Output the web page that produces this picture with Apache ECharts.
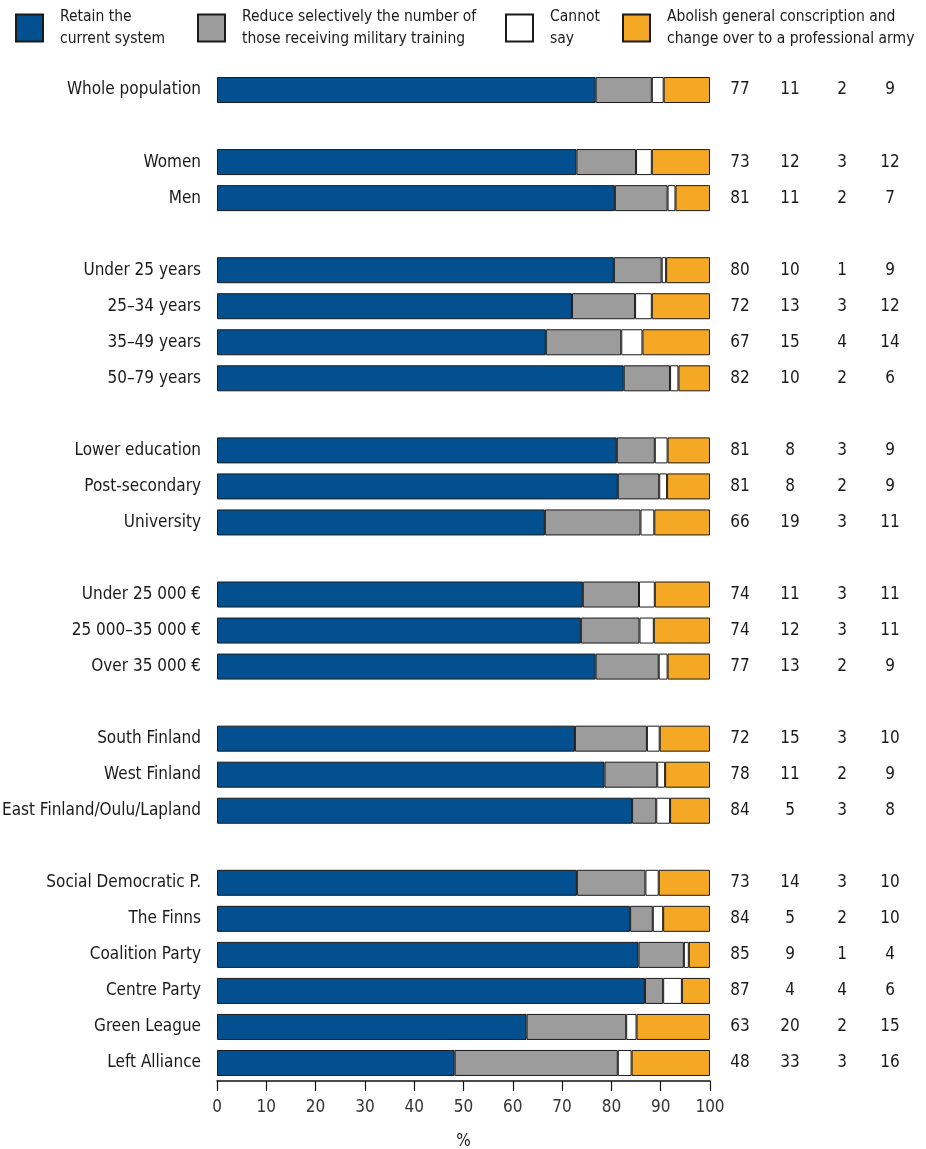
<!DOCTYPE html>
<html>
<head>
<meta charset="utf-8">
<script src="https://cdn.jsdelivr.net/npm/echarts@6/dist/echarts.min.js"></script>
<style>
html,body{margin:0;padding:0;background:#fff;}
#chart{width:926px;height:1149px;}
</style>
</head>
<body>
<div id="chart"></div>
<script>
// null marks an empty gap row between groups
const categories = ['Whole population', null, 'Women', 'Men', null,
  'Under 25 years', '25–34 years', '35–49 years', '50–79 years', null,
  'Lower education', 'Post-secondary', 'University', null,
  'Under 25 000 €', '25 000–35 000 €', 'Over 35 000 €', null,
  'South Finland', 'West Finland', 'East Finland/Oulu/Lapland', null,
  'Social Democratic P.', 'The Finns', 'Coalition Party', 'Centre Party', 'Green League', 'Left Alliance'];

const seriesNames = ['Retain the\ncurrent system',
  'Reduce selectively the number of\nthose receiving military training',
  'Cannot\nsay',
  'Abolish general conscription and\nchange over to a professional army'];

// bar lengths (%)
const retain  = [76.8, null, 72.9, 80.7, null, 80.5, 72.0, 66.7, 82.5, null, 81.1, 81.3, 66.5, null, 74.2, 73.8, 76.8, null, 72.6, 78.6, 84.2, null, 73.0, 83.8, 85.5, 86.8, 62.8, 48.2];
const reduce  = [11.4, null, 12.1, 10.7, null, 9.7, 12.8, 15.3, 9.4, null, 7.7, 8.4, 19.4, null, 11.4, 11.9, 12.8, null, 14.6, 10.7, 4.9, null, 13.9, 4.6, 9.2, 3.7, 20.2, 33.1];
const cannot  = [2.4, null, 3.2, 1.6, null, 0.9, 3.4, 4.3, 1.7, null, 2.6, 1.6, 2.8, null, 3.2, 2.9, 1.8, null, 2.6, 1.6, 2.8, null, 2.7, 2.1, 1.0, 3.8, 2.1, 2.8];
const abolish = [9.4, null, 11.8, 7.0, null, 8.9, 11.8, 13.7, 6.4, null, 8.6, 8.7, 11.3, null, 11.2, 11.4, 8.6, null, 10.2, 9.1, 8.1, null, 10.4, 9.5, 4.3, 5.7, 14.9, 15.9];

// printed figures in the right-hand columns
const retainLabels  = [77, null, 73, 81, null, 80, 72, 67, 82, null, 81, 81, 66, null, 74, 74, 77, null, 72, 78, 84, null, 73, 84, 85, 87, 63, 48];
const reduceLabels  = [11, null, 12, 11, null, 10, 13, 15, 10, null, 8, 8, 19, null, 11, 12, 13, null, 15, 11, 5, null, 14, 5, 9, 4, 20, 33];
const cannotLabels  = [2, null, 3, 2, null, 1, 3, 4, 2, null, 3, 2, 3, null, 3, 3, 2, null, 3, 2, 3, null, 3, 2, 1, 4, 2, 3];
const abolishLabels = [9, null, 12, 7, null, 9, 12, 14, 6, null, 9, 9, 11, null, 11, 11, 9, null, 10, 9, 8, null, 10, 10, 4, 6, 15, 16];

const xTicks = [0, 10, 20, 30, 40, 50, 60, 70, 80, 90, 100];

const colors = ['#02508f', '#9c9c9c', '#ffffff', '#f5a823'];
const FONT = "'DejaVu Sans Condensed', 'Liberation Sans Narrow', 'Noto Sans', sans-serif";
const FS = 17;
const TXT = '#1a1a1a';

// unique blank names for gap rows
let gapCount = 0;
const axisCats = categories.map(c => c === null ? ' '.repeat(++gapCount) : c);

const valueSets = [retain, reduce, cannot, abolish];
const labelSets = [retainLabels, reduceLabels, cannotLabels, abolishLabels];
const labelMargins = [30, 80, 132, 180];

const rightAxes = labelSets.map((arr, k) => ({
  type: 'category',
  data: axisCats,
  inverse: true,
  position: 'right',
  gridIndex: 0,
  axisLine: {show: false},
  axisTick: {show: false},
  splitLine: {show: false},
  axisLabel: {
    interval: 0,
    margin: labelMargins[k],
    align: 'center',
    fontFamily: FONT,
    fontSize: FS,
    color: TXT,
    formatter: (v, i) => (arr[i] === null || arr[i] === undefined) ? '' : String(arr[i])
  }
}));

const legendLefts = [15, 197, 505, 622];

const option = {
  animation: false,
  backgroundColor: '#ffffff',
  color: colors,
  legend: seriesNames.map((n, k) => ({
    data: [n],
    left: legendLefts[k],
    top: 6,
    padding: 0,
    itemWidth: 27,
    itemHeight: 27,
    icon: 'rect',
    selectedMode: false,
    textStyle: {fontFamily: FONT, fontSize: 15.5, lineHeight: 22, color: TXT, padding: [0, 0, 0, 12]}
  })),
  grid: {left: 217, right: 216, top: 72, bottom: 68, containLabel: false, outerBoundsMode: 'none'},
  xAxis: {
    type: 'value',
    min: 0,
    max: 100,
    interval: 10,
    name: '%',
    nameLocation: 'middle',
    nameGap: 52,
    nameTextStyle: {fontFamily: FONT, fontSize: FS, color: TXT},
    axisLine: {show: true, lineStyle: {color: '#111', width: 1.5}},
    axisTick: {show: true, length: 10, lineStyle: {color: '#111', width: 1.2}},
    splitLine: {show: false},
    axisLabel: {
      margin: 18,
      fontFamily: FONT,
      fontSize: FS,
      color: '#333',
      formatter: v => xTicks.includes(v) ? String(v) : ''
    }
  },
  yAxis: [{
    type: 'category',
    data: axisCats,
    inverse: true,
    axisLine: {show: false},
    axisTick: {show: false},
    splitLine: {show: false},
    axisLabel: {interval: 0, margin: 16, fontFamily: FONT, fontSize: FS, color: TXT}
  }].concat(rightAxes),
  series: valueSets.map((arr, k) => ({
    name: seriesNames[k],
    type: 'bar',
    stack: 'total',
    xAxisIndex: 0,
    yAxisIndex: 0,
    barWidth: 26,
    data: arr,
    itemStyle: {color: colors[k], borderColor: '#1a1a1a', borderWidth: 1},
    emphasis: {disabled: true}
  }))
};

const chart = echarts.init(document.getElementById('chart'), null, {renderer: 'canvas'});
chart.setOption(option);
</script>
</body>
</html>
